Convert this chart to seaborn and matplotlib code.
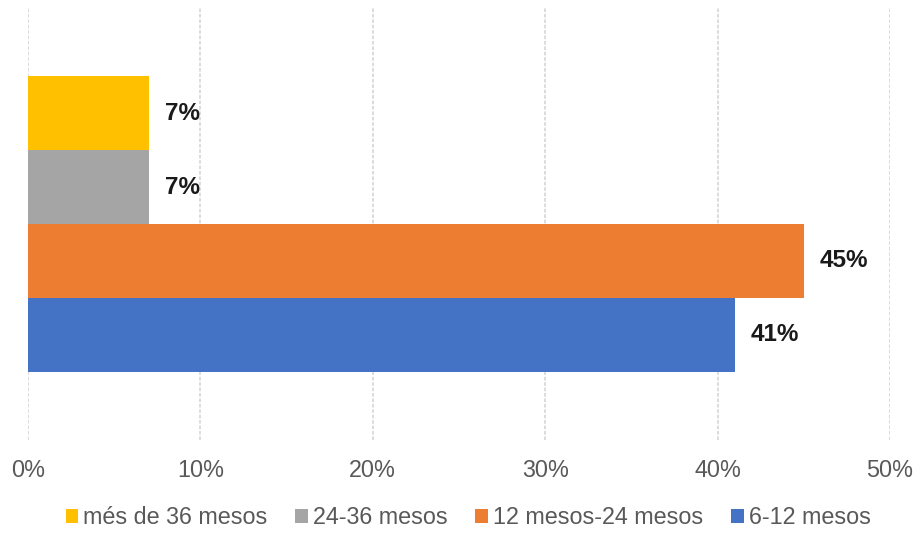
import pandas as pd
import matplotlib.pyplot as plt
import seaborn as sns

series = ['més de 36 mesos', '24-36 mesos', '12 mesos-24 mesos', '6-12 mesos']
values = [7, 7, 45, 41]
colors = ['#FFC000', '#A5A5A5', '#ED7D31', '#4472C4']
ticks = [0, 10, 20, 30, 40, 50]

data = pd.DataFrame({'grup': [''] * len(series), 'serie': series, 'pct': values})

sns.set_style('white')
plt.rcParams['font.family'] = ['Liberation Sans', 'DejaVu Sans']

fig = plt.figure(figsize=(9.19, 5.33), dpi=100)
ax = fig.add_axes([28 / 919, 1 - 440 / 533, (890 - 28) / 919, (440 - 8) / 533])
sns.barplot(data=data, x='pct', y='grup', hue='serie', hue_order=series,
            palette=colors, orient='h', width=0.683, saturation=1,
            linewidth=0, ax=ax)

for cont in ax.containers:
    ax.bar_label(cont, labels=[f'{v:.0f}%' for v in cont.datavalues],
                 padding=11.5, fontsize=17.5, fontweight='bold', color='#1a1a1a')

ax.set_xlim(0, 50)
ax.set_ylim(0.5, -0.5)
ax.set_xticks(ticks)
ax.set_xticklabels([f'{t}%' for t in ticks], fontsize=16.8, color='#595959')
ax.tick_params(axis='x', length=0, pad=14)
ax.set_yticks([])
ax.set_xlabel('')
ax.set_ylabel('')
ax.xaxis.grid(True, color='#D9D9D9', linestyle=(0, (2, 1)), linewidth=1.3)
ax.set_axisbelow(True)
sns.despine(ax=ax, left=True, bottom=True)

ax.legend(loc='center', bbox_to_anchor=(468 / 919, 1 - 518 / 533),
          bbox_transform=fig.transFigure, ncol=4, frameon=False,
          fontsize=16.8, labelcolor='#595959', handlelength=0.55, handleheight=0.55,
          handletextpad=0.2, columnspacing=1.2)

fig.savefig('out.png', dpi=100)
